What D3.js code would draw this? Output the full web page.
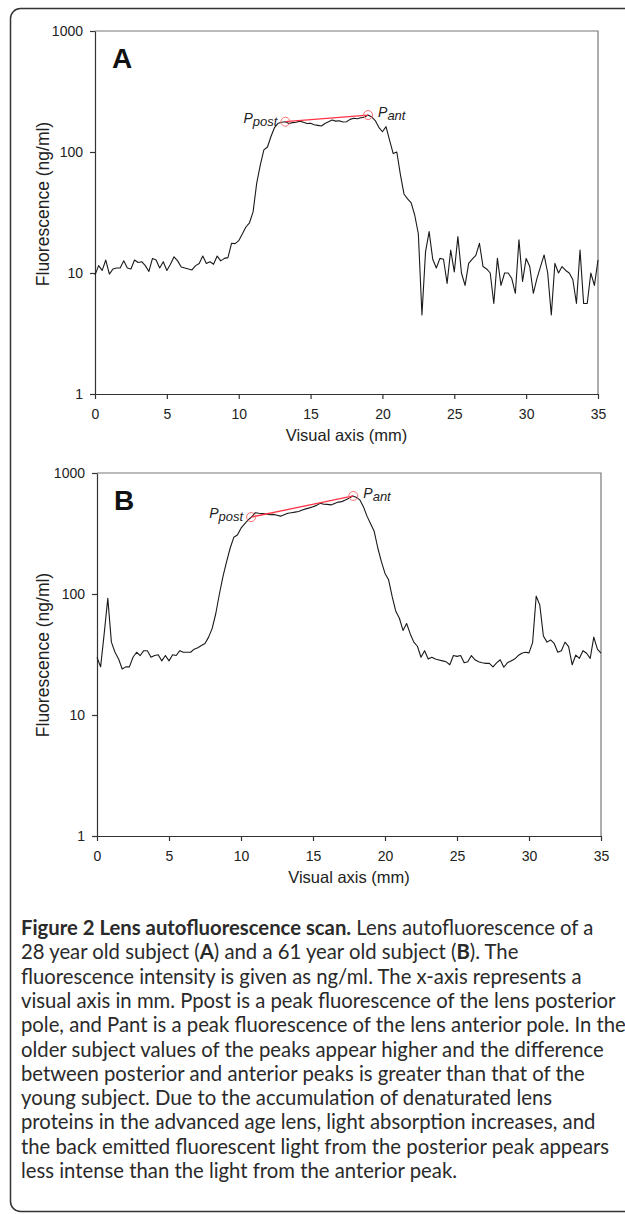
<!DOCTYPE html>
<html>
<head>
<meta charset="utf-8">
<script src="https://cdn.jsdelivr.net/npm/d3@7"></script>
<style>
body { margin: 0; background: #fff; }
svg { display: block; }
</style>
</head>
<body>
<div id="figure"></div>
<script>
// scan positions along the visual axis (mm), one reading every 0.25 mm
const scanPos = d3.range(0, 35.001, 0.25);

// panel A: 28 year old subject (ng/ml)
const fluorA = [
  9.6, 11.5, 10.5, 12.8, 9.8, 10.8, 11.0, 11.0, 12.6, 11.0,
  10.8, 12.8, 12.2, 12.4, 11.5, 10.3, 13.2, 12.8, 11.0, 12.4,
  10.5, 11.8, 13.6, 12.6, 11.2, 11.0, 10.8, 10.6, 11.5, 12.0,
  13.8, 12.0, 12.4, 11.8, 13.8, 12.6, 13.2, 13.4, 17.6, 17.5,
  18.5, 21, 24, 26, 32, 55, 78, 104, 110, 135,
  160, 173, 176, 178, 172, 175, 176, 180, 176, 172,
  173, 168, 166, 164, 172, 178, 184, 180, 181, 177,
  178, 186, 190, 188, 192, 194, 202, 195, 182, 160,
  147, 162, 125, 97, 100, 65, 45, 41, 38, 30,
  21, 4.5, 15, 22, 13, 11, 13.2, 13, 8.2, 15.5,
  10.2, 20, 10, 7.9, 12, 13, 14, 17.6, 11.3, 10.8,
  10, 5.6, 13.2, 7.9, 10, 10, 9, 6.8, 18.8, 8.5,
  13.2, 11.3, 6.8, 9, 11.3, 14.1, 10, 4.5, 12, 10,
  11.3, 10.5, 10, 8.8, 5.6, 15.5, 5.6, 5.6, 10, 7.9,
  12.8
];

// panel B: 61 year old subject (ng/ml)
const fluorB = [
  30, 25, 47, 92, 40, 33, 29, 24, 25, 25,
  30, 33, 31, 34, 34, 30, 31, 31.5, 28, 31,
  28, 31.5, 31, 34, 33, 33, 33, 35, 36, 37.5,
  39, 44, 52, 69, 100, 140, 185, 240, 294, 307,
  350, 380, 410, 435, 470, 465, 462, 458, 452, 455,
  448, 440, 452, 465, 470, 475, 480, 495, 505, 515,
  527, 540, 562, 552, 550, 545, 560, 575, 580, 598,
  618, 646, 630, 600, 527, 440, 380, 330, 240, 185,
  148, 131, 95, 72, 63, 50, 57, 47, 40, 37,
  30, 34, 29, 30, 29, 28.5, 28, 27.5, 26, 31,
  30.5, 31, 27, 27.5, 31, 28.6, 27.5, 27, 26.7, 26.7,
  25, 27, 28.6, 24.8, 27, 28, 29, 31, 32.4, 33,
  32.6, 39.6, 96, 81, 45, 40, 41.7, 39, 33, 34,
  40, 36.7, 26, 31.3, 29.4, 34, 32.4, 29.4, 44, 35,
  32.4
];

// posterior / anterior lens peaks [position mm, ng/ml]
const peakPostA = [13.25, 178];
const peakAntA = [19.0, 202];
const peakPostB = [10.7, 432];
const peakAntB = [17.8, 646];

const xTicks = [0, 5, 10, 15, 20, 25, 30, 35];
const yTicks = [1, 10, 100, 1000];

// caption lines as [text, bold] pieces
const captionLines = [
  [["Figure 2 Lens autofluorescence scan.", true], [" Lens autofluorescence of a", false]],
  [["28 year old subject (", false], ["A", true], [") and a 61 year old subject (", false], ["B", true], ["). The", false]],
  [["fluorescence intensity is given as ng/ml. The x-axis represents a", false]],
  [["visual axis in mm. Ppost is a peak fluorescence of the lens posterior", false]],
  [["pole, and Pant is a peak fluorescence of the lens anterior pole. In the", false]],
  [["older subject values of the peaks appear higher and the difference", false]],
  [["between posterior and anterior peaks is greater than that of the", false]],
  [["young subject. Due to the accumulation of denaturated lens", false]],
  [["proteins in the advanced age lens, light absorption increases, and", false]],
  [["the back emitted fluorescent light from the posterior peak appears", false]],
  [["less intense than the light from the anterior peak.", false]]
];

const width = 625, height = 1214;
const axisFont = "'Liberation Sans', Arial, sans-serif";

const svg = d3.select("#figure").append("svg")
    .attr("width", width)
    .attr("height", height);

// outer figure frame, open on the right
svg.append("rect")
    .attr("x", 10.5).attr("y", 8.5)
    .attr("width", 700).attr("height", 1203)
    .attr("rx", 10)
    .attr("fill", "none")
    .attr("stroke", "#333")
    .attr("stroke-width", 1.5);

function drawPanel(box, values, post, ant, letter) {
    let x = d3.scaleLinear().domain([0, 35]).range([box.left, box.right]);
    let y = d3.scaleLog().domain([1, 1000]).range([box.bottom, box.top]);
    let g = svg.append("g");

    // top and right frame
    g.append("path")
        .attr("d", `M${box.left},${box.top}H${box.right}V${box.bottom}`)
        .attr("fill", "none")
        .attr("stroke", "#777")
        .attr("stroke-width", 1.2);

    let xAxis = g.append("g")
        .attr("transform", `translate(0,${box.bottom})`)
        .call(d3.axisBottom(x).tickValues(xTicks).tickSize(5).tickSizeOuter(0).tickPadding(10));

    let yAxis = g.append("g")
        .attr("transform", `translate(${box.left},0)`)
        .call(d3.axisLeft(y).tickValues(yTicks).tickFormat(d3.format("d")).tickSize(5).tickSizeOuter(0).tickPadding(7));

    [xAxis, yAxis].forEach(a => {
        a.selectAll("path, line").attr("stroke", "#333").attr("stroke-width", 1.2);
        a.selectAll("text").attr("font-family", axisFont).attr("font-size", 14).attr("fill", "#222");
    });

    g.append("text")
        .attr("x", (box.left + box.right) / 2)
        .attr("y", box.bottom + 47)
        .attr("text-anchor", "middle")
        .attr("font-family", axisFont)
        .attr("font-size", 16.5)
        .attr("fill", "#222")
        .text("Visual axis (mm)");

    g.append("text")
        .attr("transform", `translate(49,${box.labelY}) rotate(-90)`)
        .attr("text-anchor", "middle")
        .attr("font-family", axisFont)
        .attr("font-size", 17.5)
        .attr("fill", "#222")
        .text("Fluorescence (ng/ml)");

    g.append("text")
        .attr("x", box.left + 17)
        .attr("y", box.top + 37)
        .attr("font-family", axisFont)
        .attr("font-weight", "bold")
        .attr("font-size", 28)
        .attr("fill", "#111")
        .text(letter);

    let line = d3.line()
        .x((d, i) => x(scanPos[i]))
        .y(d => y(d));

    g.append("path")
        .datum(values)
        .attr("d", line)
        .attr("fill", "none")
        .attr("stroke", "#1a1a1a")
        .attr("stroke-width", 1.1)
        .attr("stroke-linejoin", "round");

    g.append("line")
        .attr("x1", x(post[0])).attr("y1", y(post[1]))
        .attr("x2", x(ant[0])).attr("y2", y(ant[1]))
        .attr("stroke", "#ff3344")
        .attr("stroke-width", 1.3);

    g.selectAll(".peak")
        .data([post, ant])
        .enter()
        .append("circle")
        .attr("cx", d => x(d[0]))
        .attr("cy", d => y(d[1]))
        .attr("r", 4.5)
        .attr("fill", "none")
        .attr("stroke", "#ff7070")
        .attr("stroke-width", 1);

    // P labels with subscripts
    let lp = g.append("text")
        .attr("x", x(post[0]) - 8)
        .attr("y", y(post[1]) + 1)
        .attr("text-anchor", "end")
        .attr("font-family", axisFont)
        .attr("font-style", "italic")
        .attr("font-size", 14)
        .attr("fill", "#222");
    lp.append("tspan").text("P");
    lp.append("tspan").attr("dy", 3).attr("font-size", 13).text("post");

    let la = g.append("text")
        .attr("x", x(ant[0]) + 10)
        .attr("y", y(ant[1]) + 2)
        .attr("font-family", axisFont)
        .attr("font-style", "italic")
        .attr("font-size", 14)
        .attr("fill", "#222");
    la.append("tspan").text("P");
    la.append("tspan").attr("dy", 3).attr("font-size", 13).text("ant");
}

drawPanel({ left: 95, right: 598, top: 31, bottom: 394, labelY: 204 }, fluorA, peakPostA, peakAntA, "A");
drawPanel({ left: 97, right: 601, top: 473, bottom: 836, labelY: 655 }, fluorB, peakPostB, peakAntB, "B");

// caption
let cap = svg.append("g")
    .attr("font-family", "Lato, 'Open Sans', sans-serif")
    .attr("font-size", 20.3)
    .attr("fill", "#2a2a2a");

captionLines.forEach((segs, i) => {
    let t = cap.append("text")
        .attr("x", 21)
        .attr("y", 935 + i * 24.3);
    segs.forEach(s => {
        t.append("tspan")
            .attr("font-weight", s[1] ? "bold" : "normal")
            .text(s[0]);
    });
});
</script>
</body>
</html>
